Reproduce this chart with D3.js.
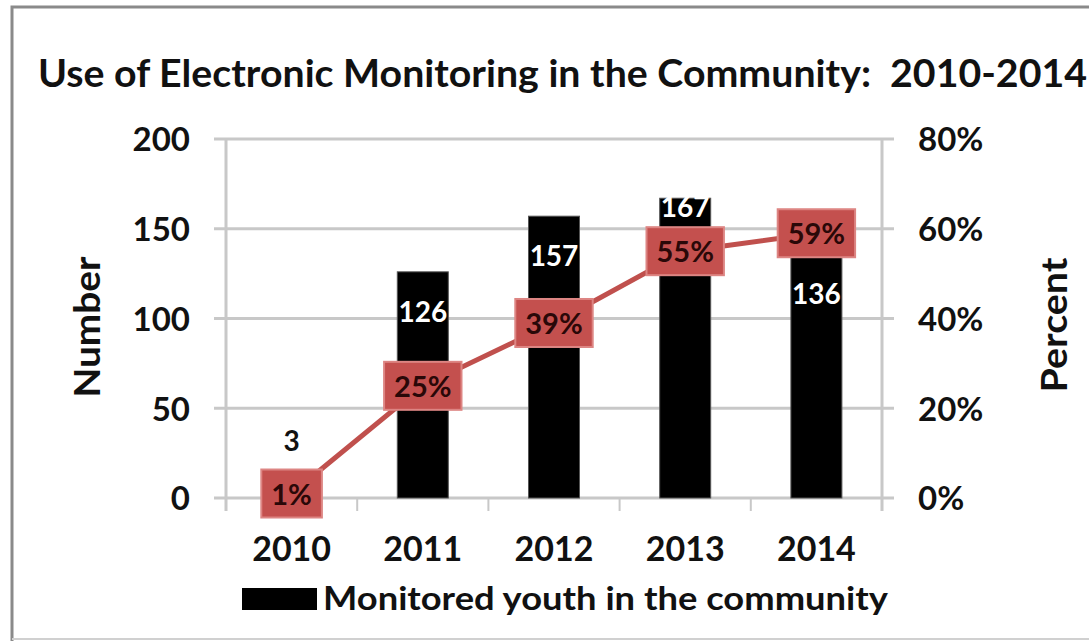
<!DOCTYPE html>
<html><head><meta charset="utf-8">
<script src="https://cdn.jsdelivr.net/npm/d3@7"></script>
<style>body{margin:0;background:#fff}text{font-family:Lato,"Open Sans",sans-serif;font-weight:bold}</style>
</head><body>
<svg id="c" width="1089" height="641"></svg>
<script>
const years = ["2010","2011","2012","2013","2014"];
const monitored = [3,126,157,167,136];
const percent = [0.01,0.25,0.39,0.55,0.59];
const leftTicks = [0,50,100,150,200];
const rightTicks = [0,0.2,0.4,0.6,0.8];
const titleText = "Use of Electronic Monitoring in the Community:  2010-2014";
const seriesName = "Monitored youth in the community";

const svg = d3.select("#c");
const W = 1089, H = 641;
svg.append("rect").attr("width",W).attr("height",H).attr("fill","#fff");
// frame
svg.append("path").attr("d","M12,641 L12,7 L1089,7").attr("fill","none").attr("stroke","#8a8a8a").attr("stroke-width",3);
svg.append("line").attr("x1",12).attr("x2",1089).attr("y1",639).attr("y2",639).attr("stroke","#d0d0d0").attr("stroke-width",2);

const x = d3.scaleBand().domain(years).range([226,882]);
const yL = d3.scaleLinear().domain([0,200]).range([498,139]);
const yR = d3.scaleLinear().domain([0,0.8]).range([498,139]);
const grid = "#c8c8c8";

// title
svg.append("text").attr("x",38).attr("y",87).attr("font-size",38).attr("fill","#111")
  .style("white-space","pre")
  .attr("textLength",1049).attr("lengthAdjust","spacingAndGlyphs").text(titleText);

// gridlines
svg.append("g").selectAll("line").data(leftTicks).join("line")
  .attr("x1",214).attr("x2",894).attr("y1",d=>yL(d)).attr("y2",d=>yL(d))
  .attr("stroke",grid).attr("stroke-width",3);
// vertical axes
svg.append("line").attr("x1",226).attr("x2",226).attr("y1",139).attr("y2",511).attr("stroke",grid).attr("stroke-width",3);
svg.append("line").attr("x1",882).attr("x2",882).attr("y1",139).attr("y2",511).attr("stroke",grid).attr("stroke-width",3);
// category tick marks
svg.append("g").selectAll("line").data(years.slice(1)).join("line")
  .attr("x1",d=>x(d)).attr("x2",d=>x(d)).attr("y1",498).attr("y2",511)
  .attr("stroke",grid).attr("stroke-width",2);

// left axis labels
const axL = svg.append("g").attr("transform","translate(190,0)")
  .call(d3.axisLeft(yL).tickValues(leftTicks).tickSize(0).tickPadding(0));
axL.select(".domain").remove();
axL.selectAll("text").attr("font-size",33).attr("font-family","Lato").attr("fill","#111").attr("dy","0.36em");
// right axis labels
const axR = svg.append("g").attr("transform","translate(918,0)")
  .call(d3.axisRight(yR).tickValues(rightTicks).tickFormat(d3.format(".0%")).tickSize(0).tickPadding(0));
axR.select(".domain").remove();
axR.selectAll("text").attr("font-size",33).attr("font-family","Lato").attr("fill","#111").attr("dy","0.36em");
// x axis labels
const axX = svg.append("g").attr("transform","translate(0,498)")
  .call(d3.axisBottom(x).tickSize(0).tickPadding(0));
axX.select(".domain").remove();
axX.selectAll("text").attr("font-size",34).attr("font-family","Lato").attr("fill","#111").attr("dy",0).attr("y",63);

// axis titles
svg.append("text").attr("transform","translate(100,327) rotate(-90)").attr("text-anchor","middle")
  .attr("font-size",36).attr("fill","#111").attr("textLength",141).attr("lengthAdjust","spacingAndGlyphs").text("Number");
svg.append("text").attr("transform","translate(1067,325) rotate(-90)").attr("text-anchor","middle")
  .attr("font-size",36).attr("fill","#111").attr("textLength",135).attr("lengthAdjust","spacingAndGlyphs").text("Percent");

// bars
const bw = 51;
const data = years.map((y,i)=>({year:y,n:monitored[i],p:percent[i]}));
svg.append("g").selectAll("rect").data(data).join("rect")
  .attr("x",d=>x(d.year)+x.bandwidth()/2-bw/2).attr("width",bw)
  .attr("y",d=>yL(d.n)).attr("height",d=>yL(0)-yL(d.n))
  .attr("fill","#000").attr("stroke","#555").attr("stroke-width",1);

// bar labels (Excel nudged some to avoid overlaps)
const labelShift = {"2010":-52,"2013":9};
svg.append("g").selectAll("text").data(data).join("text")
  .attr("x",d=>x(d.year)+x.bandwidth()/2)
  .attr("y",d=>yL(d.n)+(labelShift[d.year]!==undefined?labelShift[d.year]:40)+10)
  .attr("text-anchor","middle").attr("font-size",28)
  .attr("fill",d=>d.year==="2010"?"#111":"#fff").text(d=>d.n);

// line
const line = d3.line().x(d=>x(d.year)+x.bandwidth()/2).y(d=>yR(d.p));
svg.append("path").datum(data).attr("d",line).attr("fill","none").attr("stroke","#c0504d").attr("stroke-width",5);

// percent label boxes
const fmt = d3.format(".0%");
const pg = svg.append("g").selectAll("g").data(data).join("g")
  .attr("transform",d=>`translate(${x(d.year)+x.bandwidth()/2},${yR(d.p)})`);
pg.append("text").attr("class","pl").attr("text-anchor","middle").attr("font-size",29)
  .attr("y",11).attr("fill","#2a0808").text(d=>fmt(d.p));
pg.each(function(){
  const g = d3.select(this);
  const t = g.select("text");
  const w = t.node().getComputedTextLength();
  g.insert("rect","text").attr("x",-w/2-10).attr("width",w+20).attr("y",-24).attr("height",48)
    .attr("fill","#c4504e").attr("stroke","#dd8583").attr("stroke-width",2);
});

// legend
svg.append("rect").attr("x",242).attr("y",588).attr("width",75).attr("height",22).attr("fill","#000");
svg.append("text").attr("x",323).attr("y",610).attr("font-size",33).attr("fill","#111")
  .attr("textLength",565).attr("lengthAdjust","spacingAndGlyphs").text(seriesName);
</script>
</body></html>
